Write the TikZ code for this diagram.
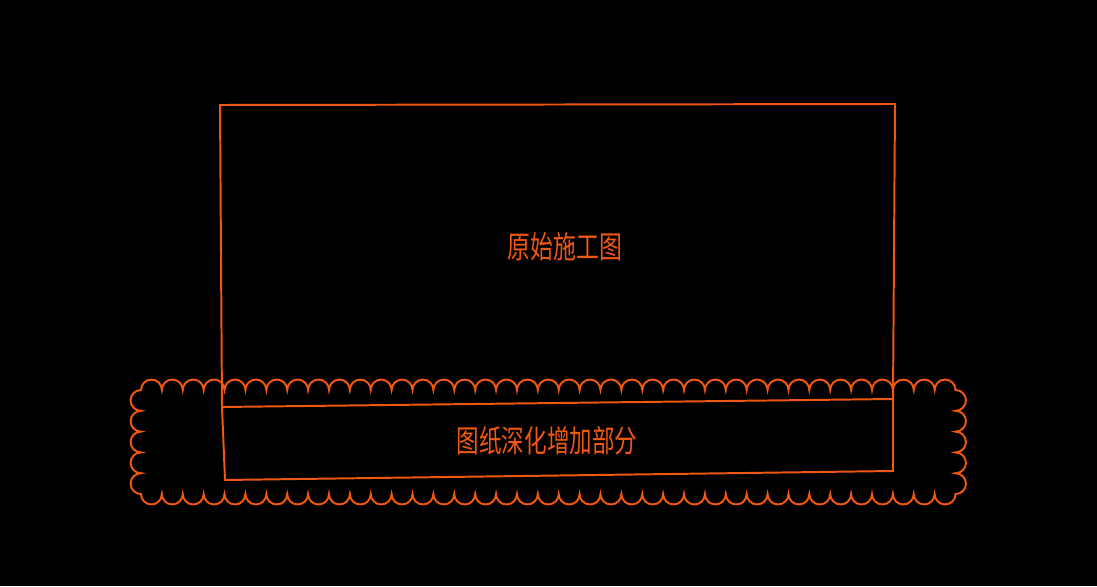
\documentclass[tikz,border=0pt]{standalone}
\usepackage{fontspec}
\newfontfamily\cjk{Noto Sans CJK SC}
\definecolor{cadorange}{RGB}{240,88,16}

\begin{document}
\begin{tikzpicture}[x=0.025cm, y=0.025cm, line join=miter]
        \tikzstyle{outline}=[draw=cadorange, line width=1.4pt]
        \tikzstyle{cloud}=[draw=cadorange, line width=1.4pt]
        \tikzstyle{label}=[text=cadorange, inner sep=0pt, font=\cjk\fontsize{22}{22}\selectfont]

        % black sheet, same size as the reference
        \fill[black] (0,0) rectangle (1097,586);
        \useasboundingbox (0,0) rectangle (1097,586);

        % corners of the drawing sheet
        \coordinate (TL) at (220,481);
        \coordinate (TR) at (895,482);
        \coordinate (BR) at (893,115);
        \coordinate (BL) at (225,106);
        \coordinate (ML) at (222,179);
        \coordinate (MR) at (893,187);

        \draw[outline] (ML) -- (TL) -- (TR) -- (MR) -- cycle; % original part
        \draw[outline] (ML) -- (BL) -- (BR) -- (MR); % added part

        % revision cloud round the added part
        \draw[cloud] (141,196)
                foreach \i in {1,...,39} {arc[start angle=180, end angle=0, radius=0.261cm]}
                foreach \j in {1,...,5} {arc[start angle=90, end angle=-90, radius=0.26cm]}
                foreach \i in {1,...,39} {arc[start angle=0, end angle=-180, radius=0.261cm]}
                foreach \j in {1,...,5} {arc[start angle=-90, end angle=-270, radius=0.26cm]}
                -- cycle;

        \node[label] (orig) at (565,339) {\scalebox{0.74}[1]{原始施工图}};
        \node[label] (added) at (547,145) {\scalebox{0.73}[1]{图纸深化增加部分}};
\end{tikzpicture}
\end{document}
